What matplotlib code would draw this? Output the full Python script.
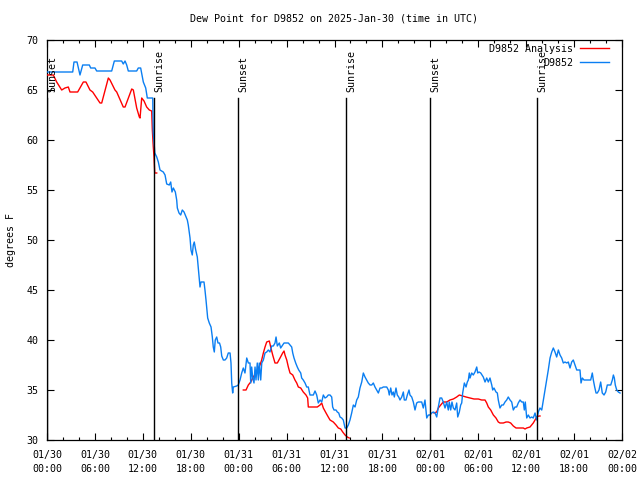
import numpy as np
import pandas as pd
import matplotlib
matplotlib.use("Agg")
import matplotlib.pyplot as plt
import matplotlib.dates as mdates

# ---------------- data ----------------
base_time = "2025-01-30 00:00"
x_start = "2025-01-30 00:00"
x_end = "2025-02-02 00:00"
y_min, y_max = 30, 70
y_ticks = [30, 35, 40, 45, 50, 55, 60, 65, 70]

# observed dew point (hours after base_time, degrees F)
obs_hours = [
    0.0, 3.22, 3.38, 3.76, 4.13, 4.47, 5.30, 5.47, 6.01, 6.22, 8.10, 8.43, 9.35, 9.55, 9.77, 9.98,
    10.18, 11.23, 11.43, 11.73, 12.06, 12.36, 12.56, 13.24, 13.30, 13.40, 13.50, 13.74, 13.94, 14.15,
    14.56, 14.78, 14.99, 15.31, 15.49, 15.65, 15.82, 16.07, 16.24, 16.32, 16.53, 16.74, 16.94, 17.16,
    17.41, 17.57, 17.69, 17.91, 18.03, 18.19, 18.32, 18.44, 18.62, 18.82, 19.03, 19.16, 19.28, 19.66,
    19.78, 19.91, 20.12, 20.32, 20.54, 20.70, 20.82, 20.95, 21.07, 21.25, 21.41, 21.60, 21.75, 21.88,
    22.08, 22.29, 22.50, 22.70, 22.92, 23.04, 23.13, 23.25, 23.33, 23.75, 23.95, 24.17, 24.38, 24.58,
    24.79, 25.01, 25.21, 25.42, 25.51, 25.63, 25.76, 25.92, 26.05, 26.17, 26.33, 26.46, 26.58, 26.76,
    26.89, 27.09, 27.30, 27.51, 27.71, 27.92, 28.14, 28.34, 28.55, 28.68, 28.84, 29.09, 29.26, 29.51,
    29.68, 29.93, 30.22, 30.43, 30.64, 30.77, 30.93, 31.14, 31.34, 31.52, 31.77, 31.89, 32.09, 32.31,
    32.52, 32.72, 32.93, 33.35, 33.56, 33.77, 33.97, 34.19, 34.40, 34.60, 34.81, 35.02, 35.22, 35.44,
    35.65, 35.77, 35.94, 36.19, 36.35, 36.53, 36.69, 36.90, 37.10, 37.32, 37.53, 37.73, 37.94, 38.15,
    38.36, 38.57, 38.78, 38.98, 39.19, 39.41, 39.61, 39.82, 40.03, 40.23, 40.45, 40.66, 40.86, 41.07,
    41.28, 41.49, 41.70, 41.91, 42.11, 42.54, 42.74, 42.86, 43.04, 43.20, 43.36, 43.49, 43.70, 43.86,
    44.04, 44.20, 44.42, 44.62, 44.74, 44.95, 45.12, 45.33, 45.45, 45.67, 45.87, 46.08, 46.29, 46.49,
    46.92, 47.12, 47.33, 47.55, 47.75, 47.96, 48.17, 48.37, 48.59, 48.80, 49.00, 49.21, 49.42, 49.62,
    49.84, 50.05, 50.25, 50.37, 50.55, 50.71, 50.88, 51.09, 51.30, 51.43, 51.63, 51.80, 51.93, 52.05,
    52.26, 52.47, 52.63, 52.76, 52.88, 52.97, 53.18, 53.38, 53.59, 53.81, 53.93, 54.10, 54.31, 54.47,
    54.63, 54.85, 55.06, 55.26, 55.47, 55.69, 55.81, 55.97, 56.22, 56.39, 56.51, 56.72, 56.94, 57.14,
    57.35, 57.56, 57.76, 57.98, 58.19, 58.39, 58.60, 58.81, 59.01, 59.23, 59.44, 59.64, 59.77, 59.89,
    60.07, 60.27, 60.48, 60.69, 60.89, 61.11, 61.32, 61.52, 61.73, 61.95, 62.15, 62.36, 62.57, 62.77,
    62.99, 63.20, 63.40, 63.61, 63.82, 64.03, 64.24, 64.45, 64.65, 64.86, 65.08, 65.28, 65.49, 65.70,
    65.90, 66.12, 66.33, 66.74, 66.87, 67.03, 67.24, 68.08, 68.28, 68.41, 68.58, 68.75, 68.91, 69.12,
    69.33, 69.53, 69.75, 69.96, 70.16, 70.59, 70.79, 70.92, 71.04, 71.16, 71.34, 71.54, 71.75,
]
obs_dewpt = [
    66.8, 66.8, 67.8, 67.8, 66.5, 67.5, 67.5, 67.2, 67.2, 66.9, 66.9, 67.9, 67.9, 67.6, 67.9, 67.5,
    66.9, 66.9, 67.2, 67.2, 65.8, 65.2, 64.2, 64.2, 60.7, 59.8, 58.7, 58.3, 57.8, 57.0,
    56.8, 56.5, 55.6, 55.5, 55.8, 54.8, 55.2, 54.8, 54.0, 53.2, 52.7, 52.5, 53.0, 52.8,
    52.3, 52.0, 51.5, 50.2, 49.0, 48.5, 49.5, 49.8, 49.0, 48.3, 46.5, 45.3, 45.8, 45.8,
    45.0, 44.0, 42.2, 41.7, 41.3, 40.3, 39.3, 38.8, 40.0, 40.3, 39.7, 39.7, 39.3, 38.4,
    38.0, 38.0, 38.2, 38.7, 38.7, 37.7, 35.7, 34.7, 35.3, 35.4, 35.5, 36.0, 36.7, 37.2,
    36.7, 38.2, 37.7, 37.7, 35.7, 37.3, 36.2, 35.7, 37.3, 36.0, 37.7, 36.0, 37.7, 36.0,
    37.7, 38.0, 38.7, 38.8, 39.0, 38.8, 39.4, 39.4, 39.7, 40.3, 39.4, 39.7, 39.2, 39.5,
    39.7, 39.7, 39.7, 39.5, 39.3, 38.7, 38.2, 37.7, 37.3, 37.0, 36.7, 36.2, 36.0, 35.7,
    35.3, 35.3, 34.5, 34.5, 34.9, 34.5, 33.7, 34.0, 33.8, 34.5, 34.2, 34.3, 34.5, 34.5,
    34.3, 33.3, 33.0, 33.0, 32.8, 32.7, 32.3, 32.2, 32.0, 31.2, 31.2, 31.5, 32.0, 32.7,
    33.5, 33.3, 34.0, 34.3, 35.2, 35.8, 36.7, 36.3, 36.0, 35.7, 35.5, 35.5, 35.7, 35.3,
    35.0, 34.7, 35.2, 35.2, 35.3, 35.3, 35.0, 34.5, 35.2, 34.5, 34.8, 34.3, 35.2, 34.5,
    34.3, 34.0, 34.3, 34.8, 34.0, 34.0, 34.5, 35.0, 34.5, 34.3, 33.8, 33.0, 33.7, 33.8,
    33.8, 33.2, 34.0, 32.2, 32.5, 32.5, 32.7, 32.8, 32.7, 32.3, 33.3, 34.2, 34.2, 33.8,
    33.2, 33.8, 33.0, 33.8, 33.0, 33.8, 33.2, 33.0, 33.7, 32.3, 32.8, 33.5, 33.7, 34.7,
    35.7, 35.3, 35.8, 36.0, 36.7, 36.2, 36.7, 36.5, 36.8, 37.3, 36.7, 36.8, 36.7, 36.5,
    36.3, 35.8, 36.2, 35.8, 36.2, 35.5, 35.0, 35.2, 34.8, 34.7, 34.0, 33.2, 33.5, 33.5,
    33.8, 34.0, 34.3, 34.0, 33.8, 33.0, 33.3, 33.3, 33.7, 34.0, 33.8, 33.8, 33.0, 33.8,
    32.2, 32.5, 32.2, 32.3, 32.2, 32.7, 32.0, 32.8, 33.2, 33.0, 34.0, 35.0, 36.0, 37.0,
    38.2, 38.8, 39.2, 38.8, 38.3, 39.0, 38.5, 38.2, 37.7, 37.8, 37.7, 37.8, 37.2, 37.8,
    38.0, 37.5, 37.0, 37.0, 35.7, 36.2, 36.0, 36.0, 36.7, 36.0, 35.3, 34.7, 34.7, 35.0,
    35.8, 34.7, 34.5, 34.8, 35.5, 35.5, 36.0, 36.5, 36.2, 35.5, 35.0, 34.8, 34.7,
]

# analysis dew point (NaN marks gaps in the analysis record)
ana_hours = [
    0.0, 0.79, 1.21, 1.84, 2.25, 2.67, 2.88, 3.22, 3.84, 4.55, 4.88, 5.38, 5.72, 6.22, 6.64, 6.85,
    7.68, 7.89, 8.51, 8.73, 9.55, 9.77, 10.61, 10.81, 11.23, 11.56, 11.65, 11.86, 12.15, 12.48,
    12.81, 13.11, 13.19, 13.31, 13.40, 13.49, 13.74,
    18.0,
    24.58, 24.92, 25.21, 25.51, 25.83, 26.26, 26.67, 26.88, 27.09, 27.30, 27.51, 27.84, 28.01, 28.26,
    28.55, 28.84, 29.18, 29.51, 29.68, 29.80, 30.02, 30.22, 30.43, 30.77, 31.05, 31.27, 31.47, 31.77,
    32.09, 32.43, 32.64, 32.72, 33.85, 34.19, 34.40, 34.60, 34.94, 35.22, 35.44, 35.85, 36.19, 36.48,
    36.78, 37.03, 37.32, 37.60, 37.85,
    43.0,
    48.46, 48.80, 49.00, 49.30, 49.62, 50.05, 50.46, 50.88, 51.30, 51.63, 52.05, 52.47, 52.97, 53.47,
    54.01, 54.43, 54.85, 55.06, 55.26, 55.56, 55.89, 56.22, 56.51, 56.72, 57.14, 57.48, 57.76, 58.06,
    58.39, 58.73, 59.23, 59.64, 59.86, 60.07, 60.48, 60.89, 61.11, 61.32, 61.57, 61.73,
]
ana_dewpt = [
    66.5, 66.5, 65.8, 65.0, 65.2, 65.3, 64.8, 64.8, 64.8, 65.8, 65.8, 65.0, 64.8, 64.2, 63.7, 63.7,
    66.2, 66.0, 65.0, 64.8, 63.3, 63.3, 65.1, 65.0, 63.2, 62.3, 62.2, 64.2, 63.9, 63.3,
    63.0, 62.9, 61.0, 59.3, 58.3, 56.7, 56.7,
    np.nan,
    35.0, 35.0, 35.5, 35.8, 36.3, 36.8, 37.5, 38.0, 38.7, 39.3, 39.8, 39.9, 39.3, 38.5,
    37.7, 37.7, 38.2, 38.7, 38.9, 38.5, 38.0, 37.3, 36.7, 36.5, 36.0, 35.7, 35.3, 35.2,
    34.8, 34.5, 34.2, 33.3, 33.3, 33.5, 33.7, 33.2, 32.7, 32.3, 32.0, 31.8, 31.5, 31.2,
    31.1, 30.8, 30.5, 30.3, 30.2,
    np.nan,
    32.7, 32.8, 33.2, 33.5, 33.8, 33.8, 34.0, 34.1, 34.3, 34.5, 34.4, 34.3, 34.2, 34.1,
    34.1, 34.0, 34.0, 33.7, 33.3, 33.0, 32.5, 32.2, 31.8, 31.7, 31.7, 31.8, 31.8, 31.7,
    31.4, 31.2, 31.2, 31.2, 31.1, 31.2, 31.3, 31.7, 32.0, 32.3, 32.4, 32.4,
]

# sun events (hours after base_time)
sun_hours = [0.0, 13.40, 23.92, 37.44, 47.96, 61.36]
sun_labels = ["Sunset", "Sunrise", "Sunset", "Sunrise", "Sunset", "Sunrise"]
sun_line_top = 64.2
sun_text_y = 64.8

title = "Dew Point for D9852 on 2025-Jan-30 (time in UTC)"
ylabel = "degrees F"
label_ana = "D9852 Analysis"
label_obs = "D9852"

# ---------------- plotting ----------------
FONT = "DejaVu Sans Mono"
FS = 7.2
plt.rcParams["font.family"] = FONT
plt.rcParams["font.size"] = FS

t0 = pd.Timestamp(base_time)
obs_t = t0 + pd.to_timedelta(obs_hours, unit="h")
ana_t = t0 + pd.to_timedelta(ana_hours, unit="h")
sun_t = t0 + pd.to_timedelta(sun_hours, unit="h")

fig = plt.figure(figsize=(6.4, 4.8), dpi=100)
ax = fig.add_axes([47 / 640, 40 / 480, 575 / 640, 400 / 480])

red = "#ff0000"
blue = "#0a7ef2"
ax.plot(ana_t, ana_dewpt, color=red, lw=1.0, label=label_ana, zorder=3)
ax.plot(obs_t, obs_dewpt, color=blue, lw=1.0, label=label_obs, zorder=3)

for t, lab in zip(sun_t, sun_labels):
    ax.plot([t, t], [y_min, sun_line_top], color="black", lw=1.0, zorder=4)
    ax.text(t, sun_text_y, lab, rotation=90, ha="left", va="bottom",
            fontsize=FS, color="black", zorder=5)

ax.set_xlim(pd.Timestamp(x_start), pd.Timestamp(x_end))
ax.set_ylim(y_min, y_max)
ax.set_yticks(y_ticks)

ax.xaxis.set_major_locator(mdates.HourLocator(byhour=[0, 6, 12, 18]))
ax.xaxis.set_minor_locator(mdates.HourLocator(byhour=range(0, 24, 2)))
ax.xaxis.set_major_formatter(mdates.DateFormatter("%m/%d\n%H:%M"))

ax.tick_params(which="major", direction="in", length=5, width=0.8,
               top=True, right=True, labelsize=FS, pad=6)
ax.tick_params(which="minor", direction="in", length=2.5, width=0.8,
               top=True, right=True)
ax.tick_params(axis="x", which="major", pad=7)
for lbl in ax.get_xticklabels():
    lbl.set_linespacing(1.5)
for s in ax.spines.values():
    s.set_linewidth(0.9)
    s.set_color("black")

ax.set_ylabel(ylabel, fontsize=FS, labelpad=8)
ax.text(0.5, 1 + 21 / 400, title, transform=ax.transAxes, ha="center",
        va="center", fontsize=FS)

leg = ax.legend(loc="upper right", bbox_to_anchor=(0.978, 0.99), frameon=False,
                markerfirst=False, handlelength=2.9, handletextpad=0.7,
                borderpad=0, borderaxespad=0, labelspacing=0.4, fontsize=FS)

fig.savefig("out.png", dpi=100)
